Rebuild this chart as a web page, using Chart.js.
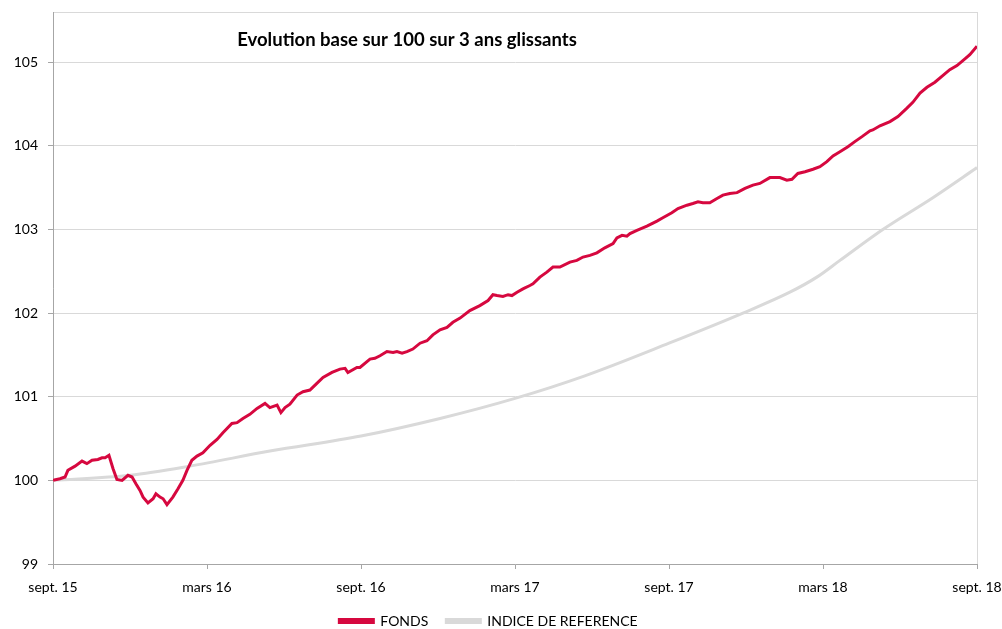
<!DOCTYPE html>
<html>
<head>
<meta charset="utf-8">
<script src="https://cdn.jsdelivr.net/npm/chart.js@4.4.1/dist/chart.umd.min.js"></script>
<style>
  html, body { margin: 0; padding: 0; background: #fff; }
  #wrap { width: 1002px; height: 629px; }
</style>
</head>
<body>
<div id="wrap"><canvas id="chart" width="1002" height="629"></canvas></div>
<script>
/* Evolution base 100 sur 3 ans glissants — fonds vs indice */

var TITLE = 'Evolution base sur 100 sur 3 ans glissants';

// x in months since sept. 15
var FONDS_X = [0,0.27,0.47,0.58,0.86,1.13,1.32,1.52,1.75,1.91,2.03,2.18,2.34,2.49,2.69,2.92,3.08,3.23,3.39,3.51,
  3.70,3.90,4.01,4.17,4.29,4.44,4.67,4.87,5.06,5.22,5.41,5.61,5.84,6.12,6.39,6.62,6.97,7.17,7.40,7.67,
  7.95,8.26,8.45,8.73,8.88,9.04,9.23,9.51,9.74,10.01,10.28,10.52,10.87,11.18,11.38,11.49,11.84,11.96,12.35,12.54,
  12.74,13.01,13.25,13.40,13.60,13.79,14.02,14.30,14.57,14.80,15.08,15.35,15.58,15.86,16.24,16.63,16.95,17.14,17.30,17.53,
  17.73,17.88,18.08,18.31,18.58,18.70,18.97,19.24,19.48,19.75,20.14,20.41,20.65,20.92,21.19,21.50,21.82,21.97,22.17,22.36,
  22.48,22.75,23.14,23.53,23.76,24.11,24.35,24.70,24.93,25.13,25.32,25.59,25.87,26.10,26.37,26.65,26.96,27.27,27.54,27.93,
  28.13,28.32,28.59,28.79,29.02,29.30,29.61,29.88,30.15,30.39,30.66,30.97,31.24,31.52,31.83,31.94,32.22,32.61,32.92,33.27,
  33.50,33.78,34.05,34.36,34.63,34.94,35.22,35.53,35.72,36.00];
var FONDS = [100.00,100.02,100.04,100.12,100.17,100.23,100.20,100.24,100.25,100.27,100.27,100.30,100.14,100.01,100.00,100.06,100.04,99.96,99.88,99.80,
  99.73,99.78,99.84,99.80,99.78,99.71,99.80,99.90,100.00,100.12,100.24,100.29,100.33,100.42,100.49,100.57,100.68,100.69,100.74,100.79,
  100.86,100.92,100.87,100.90,100.81,100.87,100.91,101.02,101.06,101.08,101.16,101.23,101.29,101.33,101.34,101.29,101.35,101.35,101.45,101.46,
  101.49,101.54,101.53,101.54,101.52,101.54,101.57,101.64,101.67,101.74,101.80,101.83,101.89,101.94,102.03,102.09,102.15,102.22,102.21,102.20,
  102.22,102.21,102.25,102.29,102.33,102.35,102.43,102.49,102.55,102.55,102.61,102.63,102.67,102.69,102.72,102.78,102.83,102.90,102.93,102.92,
  102.95,102.99,103.04,103.10,103.14,103.20,103.25,103.29,103.31,103.33,103.32,103.32,103.37,103.41,103.43,103.44,103.49,103.53,103.55,103.62,
  103.62,103.62,103.59,103.60,103.67,103.69,103.72,103.75,103.81,103.88,103.93,103.99,104.05,104.11,104.18,104.19,104.24,104.29,104.35,104.45,
  104.52,104.63,104.70,104.76,104.83,104.91,104.96,105.04,105.09,105.19];

var INDICE_X = [0,3.00,5.34,8.45,12.00,15.08,18.00,20.72,24.00,26.88,28.71,29.76,30.66,32.33,34.28,36.00];
var INDICE = [100.00,100.06,100.17,100.35,100.53,100.74,100.98,101.25,101.64,102.00,102.25,102.43,102.63,103.00,103.38,103.74];

var X_TICKS = [0, 6, 12, 18, 24, 30, 36];
var X_LABELS = ['sept. 15', 'mars 16', 'sept. 16', 'mars 17', 'sept. 17', 'mars 18', 'sept. 18'];
var Y_TICKS = [99, 100, 101, 102, 103, 104, 105];

var FONT = 'Lato, "Open Sans", sans-serif';

function toPoints(xs, ys) {
  return xs.map(function(x, i) { return { x: x, y: ys[i] }; });
}

// light frame around the plot + the title inside it
var frameAndTitle = {
  id: 'frameAndTitle',
  beforeDraw: function(chart) {
    var a = chart.chartArea, ctx = chart.ctx;
    ctx.save();
    ctx.strokeStyle = '#D9D9D9';
    ctx.lineWidth = 1;
    ctx.strokeRect(a.left + 0.5, a.top + 0.5, a.right - a.left, a.bottom - a.top);
    ctx.restore();
  },
  afterDraw: function(chart) {
    var ctx = chart.ctx;
    ctx.save();
    ctx.font = 'bold 18.5px ' + FONT;
    ctx.fillStyle = '#000';
    ctx.textAlign = 'center';
    ctx.textBaseline = 'middle';
    ctx.fillText(TITLE, 407, 40);
    ctx.restore();
  }
};

new Chart(document.getElementById('chart'), {
  type: 'line',
  data: {
    datasets: [
      { label: 'FONDS', data: toPoints(FONDS_X, FONDS), borderColor: '#D6083F', backgroundColor: '#D6083F',
        borderWidth: 3, pointRadius: 0, tension: 0 },
      { label: 'INDICE DE REFERENCE', data: toPoints(INDICE_X, INDICE), borderColor: '#D9D9D9', backgroundColor: '#D9D9D9',
        borderWidth: 3, pointRadius: 0, cubicInterpolationMode: 'monotone' }
    ]
  },
  options: {
    responsive: false,
    animation: false,
    layout: { padding: { left: 0, right: 25, top: 12, bottom: -9 } },
    plugins: {
      legend: {
        position: 'bottom',
        labels: { boxWidth: 34, boxHeight: 3, padding: 18, color: '#000', font: { family: FONT, size: 14 } }
      },
      tooltip: { enabled: false }
    },
    scales: {
      x: {
        type: 'linear', min: 0, max: 36,
        afterBuildTicks: function(s) { s.ticks = X_TICKS.map(function(v) { return { value: v }; }); },
        afterFit: function(s) { s.height = 32; s.paddingLeft = 0; s.paddingRight = 0; },
        grid: { drawOnChartArea: false, tickLength: 5, tickColor: '#A6A6A6' },
        border: { color: '#A6A6A6' },
        ticks: {
          maxRotation: 0, padding: 10, color: '#000', font: { family: FONT, size: 14 },
          callback: function(v) { return X_LABELS[X_TICKS.indexOf(v)]; }
        }
      },
      y: {
        min: 99, max: 105.6,
        afterBuildTicks: function(s) { s.ticks = Y_TICKS.map(function(v) { return { value: v }; }); },
        afterFit: function(s) { s.width = 53; s.paddingTop = 0; s.paddingBottom = 0; },
        grid: { color: '#D9D9D9', tickLength: 5, tickColor: '#A6A6A6' },
        border: { color: '#A6A6A6' },
        ticks: { padding: 10, color: '#000', font: { family: FONT, size: 14 } }
      }
    }
  },
  plugins: [frameAndTitle]
});
</script>
</body>
</html>
